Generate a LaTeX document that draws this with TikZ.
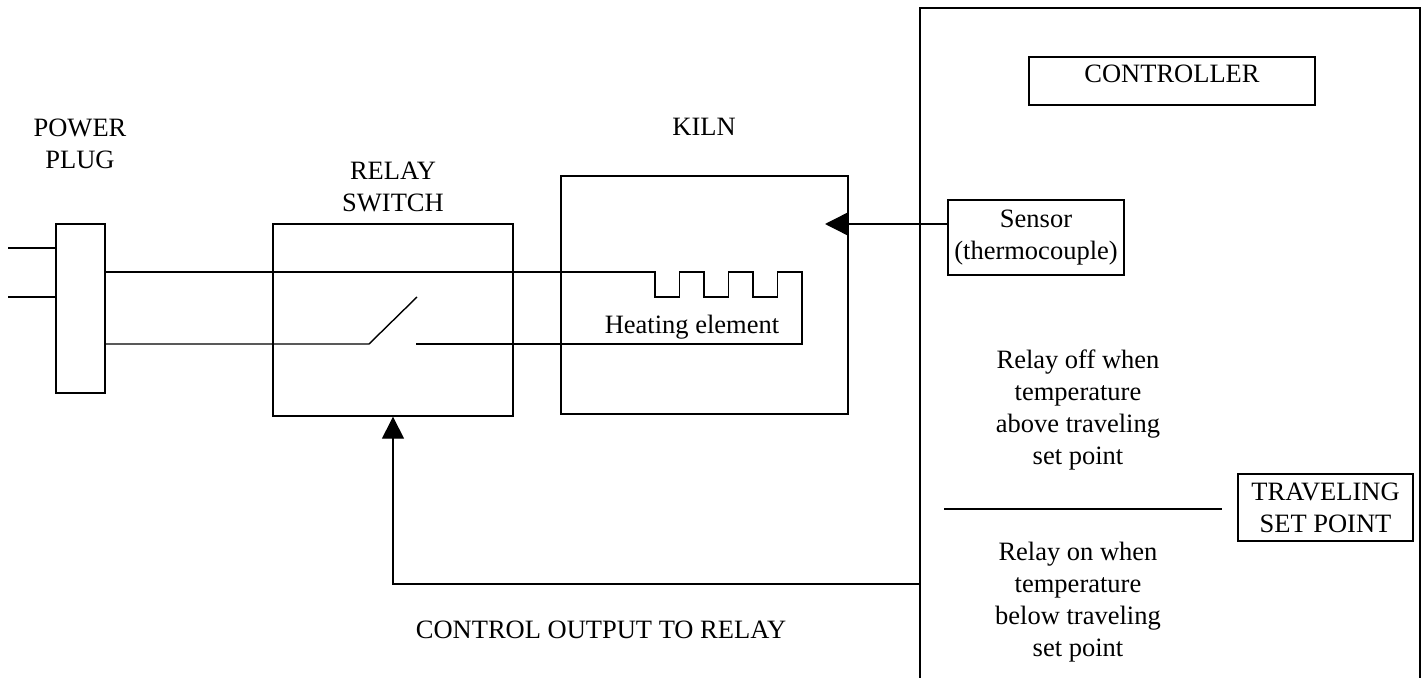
\documentclass[tikz,border=0pt]{standalone}
\usepackage{fontspec}
\setmainfont{Liberation Serif}
\usetikzlibrary{arrows.meta}

\begin{document}
\begin{tikzpicture}[x=0.5pt, y=-0.5pt, line width=0.7pt,
        font=\fontsize{13.25}{16}\selectfont,
        box/.style={draw, inner sep=0pt, align=center},
        txt/.style={align=center, inner sep=0pt},
        tip/.style={-{Triangle[length=11pt, width=11pt]}}]
    \useasboundingbox (0,0) rectangle (1428,678);

    \node[box, minimum width=24.5pt, minimum height=84.5pt] (plug) at (80.5,308.5) {};
    \node[box, minimum width=120pt, minimum height=96pt] (relay) at (393,320) {};
    \node[box, minimum width=143.5pt, minimum height=119pt] (kiln) at (704.5,295) {};
    \node[box, minimum width=250pt, minimum height=346pt] (ctrl) at (1170,354) {};
    \node[box, minimum width=143pt, minimum height=24pt, text depth=7pt] (ctrltitle) at (1172,81) {CONTROLLER};
    \node[box, minimum width=88pt, minimum height=37.5pt] (sensor) at (1036,237.5) {Sensor\\(thermocouple)};
    \node[box, minimum width=87.5pt, minimum height=33.5pt] (setpt) at (1325.5,507.5) {TRAVELING\\SET POINT};

    \node[txt] (plugtxt) at (80,143.5) {POWER\\PLUG};
    \node[txt] (relaytxt) at (393,187) {RELAY\\SWITCH};
    \node[txt] (kilntxt) at (704,127) {KILN};
    \node[txt] (heattxt) at (692,327) {Heating element};
    \node[txt] (offtxt) at (1078,409.5) {Relay off when\\temperature\\above traveling\\set point};
    \node[txt] (ontxt) at (1078,602) {Relay on when\\temperature\\below traveling\\set point};
    \node[txt] (outtxt) at (601,630) {CONTROL OUTPUT TO RELAY};

    % plug prongs
    \coordinate (prongA) at (8,248);
    \coordinate (prongB) at (8,297);
    \draw (prongA) -- (prongA -| plug.west);
    \draw (prongB) -- (prongB -| plug.west);

    % switch
    \coordinate (swpivot) at (369,344);
    \coordinate (swblade) at (417,297);
    \coordinate (swcontact) at (416,344);
    \draw (plug.east |- swpivot) -- (swpivot) -- (swblade);

    % heating element
    \coordinate (elemL) at (655,272);
    \draw (plug.east |- elemL) -- (elemL)
        \foreach \i in {0,1,2} { -- ++(0,25) -- ++(24.5,0) -- ++(0,-25) -- ++(24.5,0) }
        -- ++(0,72) -- (swcontact);

    % sensor to kiln
    \coordinate (probe) at (825,224);
    \draw[tip] (sensor.west |- probe) -- (probe);

    % set point divider
    \coordinate (divL) at (944,509);
    \coordinate (divR) at (1222,509);
    \draw (divL) -- (divR);

    % control output
    \coordinate (outpt) at (920,584);
    \draw[tip] (ctrl.west |- outpt) -| (relay.south);

\end{tikzpicture}
\end{document}
